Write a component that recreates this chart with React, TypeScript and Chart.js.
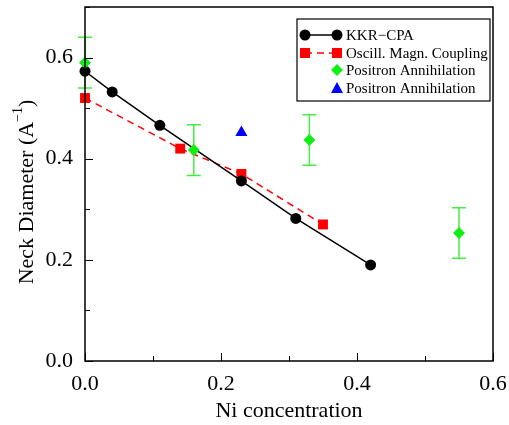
import React, { useEffect, useRef } from "react";
import { Chart, registerables } from "chart.js";

Chart.register(...registerables);

const kkrX = [0, 0.04, 0.11, 0.23, 0.31, 0.42];
const kkrY = [0.573, 0.532, 0.466, 0.356, 0.282, 0.19];
const oscX = [0, 0.14, 0.23, 0.35];
const oscY = [0.52, 0.42, 0.37, 0.27];
const posX = [0, 0.16, 0.33, 0.55];
const posY = [0.59, 0.417, 0.437, 0.253];
const posErr = [0.05, 0.05, 0.05, 0.05];
const blueX = [0.23];
const blueY = [0.452];
const xTicks = [0, 0.2, 0.4, 0.6];
const yTicks = [0, 0.2, 0.4, 0.6];
const legendLabels = ["KKR\u2212CPA", "Oscill. Magn. Coupling", "Positron Annihilation", "Positron Annihilation"];
const xTitle = "Ni concentration";
const yTitle = "Neck Diameter (A";

const FONT = "'Liberation Serif', 'Times New Roman', serif";
const GREEN = "#11ee11";
const GREEN_BAR = "#44ee44";

function pts(xs: number[], ys: number[]) {
  return xs.map((x, i) => ({ x, y: ys[i] }));
}

const framePlugin = {
  id: "frame",
  beforeDatasetsDraw(chart: any) {
    const { ctx } = chart;
    const xs = chart.scales.x;
    const ys = chart.scales.y;
    ctx.save();
    ctx.strokeStyle = GREEN_BAR;
    ctx.lineWidth = 1.5;
    posX.forEach((x, i) => {
      const px = xs.getPixelForValue(x);
      const top = ys.getPixelForValue(posY[i] + posErr[i]);
      const bot = ys.getPixelForValue(posY[i] - posErr[i]);
      ctx.beginPath();
      ctx.moveTo(px, top);
      ctx.lineTo(px, bot);
      ctx.moveTo(px - 7, top);
      ctx.lineTo(px + 7, top);
      ctx.moveTo(px - 7, bot);
      ctx.lineTo(px + 7, bot);
      ctx.stroke();
    });
    ctx.restore();
  },
  afterDraw(chart: any) {
    const { ctx, chartArea: a } = chart;
    const xs = chart.scales.x;
    const ys = chart.scales.y;
    ctx.save();
    ctx.strokeStyle = "#000";
    ctx.lineWidth = 1.5;
    ctx.strokeRect(a.left, a.top, a.right - a.left, a.bottom - a.top);
    ctx.lineWidth = 1;
    ctx.beginPath();
    for (let i = 0; i <= 6; i++) {
      const v = i / 10;
      const px = Math.round(xs.getPixelForValue(v)) + 0.5;
      const len = i % 2 === 0 ? 8 : 5;
      ctx.moveTo(px, a.bottom);
      ctx.lineTo(px, a.bottom - len);
    }
    for (let i = 0; i <= 7; i++) {
      const v = i / 10;
      const py = Math.round(ys.getPixelForValue(v)) + 0.5;
      const len = i % 2 === 0 ? 8 : 5;
      ctx.moveTo(a.left, py);
      ctx.lineTo(a.left + len, py);
    }
    ctx.stroke();

    // axis titles
    ctx.fillStyle = "#000";
    ctx.font = `22px ${FONT}`;
    ctx.textAlign = "center";
    ctx.textBaseline = "middle";
    ctx.fillText(xTitle, (a.left + a.right) / 2, a.bottom + 50);

    ctx.save();
    ctx.translate(27, (a.top + a.bottom) / 2 + 8);
    ctx.rotate(-Math.PI / 2);
    ctx.font = `22px ${FONT}`;
    const w1 = ctx.measureText(yTitle).width;
    ctx.font = `14px ${FONT}`;
    const w2 = ctx.measureText("\u22121").width;
    ctx.font = `22px ${FONT}`;
    const w3 = ctx.measureText(")").width;
    const total = w1 + w2 + w3;
    let x0 = -total / 2;
    ctx.textAlign = "left";
    ctx.fillText(yTitle, x0, 0);
    x0 += w1;
    ctx.font = `14px ${FONT}`;
    ctx.fillText("\u22121", x0, -9);
    x0 += w2;
    ctx.font = `22px ${FONT}`;
    ctx.fillText(")", x0, 0);
    ctx.restore();

    // legend
    const lx = a.right - 196;
    const ly = a.top + 12;
    ctx.lineWidth = 1.2;
    ctx.strokeStyle = "#000";
    ctx.fillStyle = "#fff";
    ctx.fillRect(lx, ly, 193, 82);
    ctx.strokeRect(lx, ly, 193, 82);
    const rowY = [ly + 16, ly + 34, ly + 51, ly + 69];
    const m1 = lx + 8;
    const m2 = lx + 40;
    // KKR
    ctx.beginPath();
    ctx.lineWidth = 1.5;
    ctx.moveTo(m1, rowY[0]);
    ctx.lineTo(m2, rowY[0]);
    ctx.stroke();
    ctx.fillStyle = "#000";
    [m1, m2].forEach((mx) => {
      ctx.beginPath();
      ctx.arc(mx, rowY[0], 5.5, 0, Math.PI * 2);
      ctx.fill();
    });
    // Osc
    ctx.strokeStyle = "#ff0000";
    ctx.setLineDash([7, 5]);
    ctx.beginPath();
    ctx.moveTo(m1, rowY[1]);
    ctx.lineTo(m2, rowY[1]);
    ctx.stroke();
    ctx.setLineDash([]);
    ctx.fillStyle = "#ff0000";
    [m1, m2].forEach((mx) => ctx.fillRect(mx - 5, rowY[1] - 5, 10, 10));
    // diamond
    ctx.fillStyle = GREEN;
    ctx.beginPath();
    ctx.moveTo(m2, rowY[2] - 6);
    ctx.lineTo(m2 + 6, rowY[2]);
    ctx.lineTo(m2, rowY[2] + 6);
    ctx.lineTo(m2 - 6, rowY[2]);
    ctx.closePath();
    ctx.fill();
    // triangle
    ctx.fillStyle = "#0000ff";
    ctx.beginPath();
    ctx.moveTo(m2, rowY[3] - 6);
    ctx.lineTo(m2 + 6, rowY[3] + 5);
    ctx.lineTo(m2 - 6, rowY[3] + 5);
    ctx.closePath();
    ctx.fill();

    ctx.fillStyle = "#000";
    ctx.font = `15px ${FONT}`;
    ctx.textAlign = "left";
    ctx.textBaseline = "middle";
    legendLabels.forEach((t, i) => ctx.fillText(t, lx + 49, rowY[i] + 1));
    ctx.restore();
  },
};

export default function App() {
  const ref = useRef<HTMLCanvasElement | null>(null);
  useEffect(() => {
    document.body.style.margin = "0";
    const canvas = ref.current;
    if (!canvas) return;
    const chart = new Chart(canvas, {
      type: "line",
      data: {
        datasets: [
          {
            label: legendLabels[0],
            data: pts(kkrX, kkrY),
            borderColor: "#000",
            backgroundColor: "#000",
            borderWidth: 1.5,
            pointStyle: "circle",
            pointRadius: 5.5,
            pointBorderWidth: 0,
            showLine: true,
            clip: false,
            order: 2,
          },
          {
            label: legendLabels[1],
            data: pts(oscX, oscY),
            borderColor: "#ff0000",
            backgroundColor: "#ff0000",
            borderWidth: 1.5,
            borderDash: [7, 5],
            pointStyle: "rect",
            pointRadius: 7,
            pointBorderWidth: 0,
            showLine: true,
            clip: false,
            order: 3,
          },
          {
            label: legendLabels[2],
            data: pts(posX, posY),
            borderColor: GREEN,
            backgroundColor: GREEN,
            pointStyle: "rectRot",
            pointRadius: 6,
            pointBorderWidth: 0,
            showLine: false,
            clip: false,
            order: 0,
          },
          {
            label: legendLabels[3],
            data: pts(blueX, blueY),
            borderColor: "#0000ff",
            backgroundColor: "#0000ff",
            pointStyle: "triangle",
            pointRadius: 7,
            pointBorderWidth: 0,
            showLine: false,
            clip: false,
            order: 1,
          },
        ],
      },
      options: {
        responsive: false,
        animation: false,
        events: [],
        layout: { padding: { top: 5, right: 16, left: 0, bottom: 0 } },
        plugins: { legend: { display: false }, tooltip: { enabled: false } },
        scales: {
          x: {
            type: "linear",
            min: 0,
            max: 0.6,
            grid: { display: false, drawTicks: false },
            border: { display: false },
            afterFit: (s: any) => {
              s.height = 64;
              s.paddingLeft = 0;
              s.paddingRight = 0;
            },
            afterBuildTicks: (s: any) => {
              s.ticks = xTicks.map((v) => ({ value: v }));
            },
            ticks: {
              padding: 10,
              maxRotation: 0,
              color: "#000",
              font: { family: FONT, size: 22 },
              callback: (v: any) => Number(v).toFixed(1),
            },
          },
          y: {
            type: "linear",
            min: 0,
            max: 0.7,
            grid: { display: false, drawTicks: false },
            border: { display: false },
            afterFit: (s: any) => {
              s.width = 85;
              s.paddingTop = 0;
              s.paddingBottom = 0;
            },
            afterBuildTicks: (s: any) => {
              s.ticks = yTicks.map((v) => ({ value: v }));
            },
            ticks: {
              padding: 12,
              color: "#000",
              font: { family: FONT, size: 22 },
              callback: (v: any) => Number(v).toFixed(1),
            },
          },
        },
      },
      plugins: [framePlugin],
    } as any);
    return () => chart.destroy();
  }, []);
  return (
    <div style={{ width: 509, height: 425 }}>
      <canvas ref={ref} width={509} height={425} />
    </div>
  );
}
